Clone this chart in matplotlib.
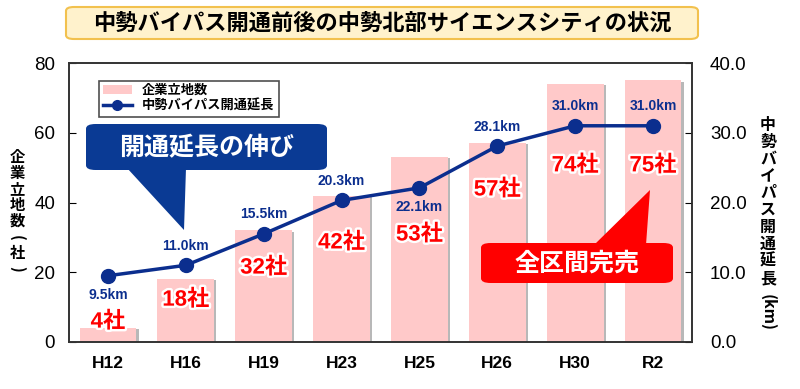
import matplotlib
matplotlib.use('Agg')
import matplotlib.pyplot as plt
import matplotlib.patheffects as pe
from matplotlib.patches import FancyBboxPatch, Polygon
from matplotlib.lines import Line2D
from matplotlib.patches import Patch

plt.rcParams['font.family'] = ['Liberation Sans', 'Noto Sans CJK JP', 'DejaVu Sans']
plt.rcParams['font.weight'] = 'bold'

years = ['H12', 'H16', 'H19', 'H23', 'H25', 'H26', 'H30', 'R2']
companies = [4, 18, 32, 42, 53, 57, 74, 75]
length_km = [9.5, 11.0, 15.5, 20.3, 22.1, 28.1, 31.0, 31.0]
count_label_y = [5.7, 12.0, 21.2, 28.4, 30.7, 43.6, 50.5, 50.5]
km_label_below = [True, False, False, False, True, False, False, False]

bar_color = '#FFC9C9'
line_color = '#0B2E8E'
label_red = '#FF0000'

fig = plt.figure(figsize=(8, 3.89), dpi=100, facecolor='white')
ax = fig.add_axes([69/800, 47/389, 623/800, 279/389])
ax2 = ax.twinx()
ax.set_zorder(ax2.get_zorder() - 1)
ax.patch.set_visible(True)
ax2.patch.set_visible(False)

x = list(range(len(years)))
shadow = [pe.SimplePatchShadow(offset=(1.6, -0.8), shadow_rgbFace='#8a8a8a', alpha=0.6), pe.Normal()]
bars = ax.bar(x, companies, width=0.73, color=bar_color, zorder=2)
for b in bars:
    b.set_path_effects(shadow)

ax.set_xlim(-0.5, len(years) - 0.5)
ax.set_ylim(0, 80)
ax.set_yticks([0, 20, 40, 60, 80])
ax.set_xticks(x)
ax.set_xticklabels(years, fontsize=12.5, fontweight='bold')
ax.tick_params(axis='x', length=0, pad=10)
ax.tick_params(axis='y', direction='in', length=5, labelsize=13.5, pad=10)
for lbl in ax.get_yticklabels():
    lbl.set_fontweight('normal')

ax2.set_ylim(0, 40)
ax2.set_yticks([0, 10, 20, 30, 40])
ax2.set_yticklabels([f'{v:.1f}' for v in [0, 10, 20, 30, 40]])
ax2.tick_params(axis='y', direction='in', length=5, labelsize=13.5, pad=13)
for lbl in ax2.get_yticklabels():
    lbl.set_fontweight('normal')

for a in (ax, ax2):
    for s in a.spines.values():
        s.set_color('#333333')
        s.set_linewidth(1.2)

ax2.plot(x, length_km, color=line_color, lw=2.5, marker='o', markersize=10, zorder=5)

stroke = [pe.withStroke(linewidth=3.5, foreground='white')]
for xi, c, ly in zip(x, companies, count_label_y):
    ax.text(xi, ly, f'{c}社', ha='center', va='center', fontsize=16, fontweight='bold',
            color=label_red, path_effects=stroke, zorder=6)

for xi, v, below in zip(x, length_km, km_label_below):
    off = -14 if below else 14
    ax2.annotate(f'{v:.1f}km', (xi, v), xytext=(0, off), textcoords='offset points',
                 ha='center', va='center', fontsize=10, fontweight='bold', color=line_color, zorder=7)

handles = [Patch(facecolor=bar_color, edgecolor='none'),
           Line2D([0], [0], color=line_color, lw=2.5, marker='o', markersize=7)]
leg = ax2.legend(handles, ['企業立地数', '中勢バイパス開通延長'], loc='upper left',
                 bbox_to_anchor=(0.037, 0.96), frameon=True, fancybox=False,
                 handlelength=2.2, borderpad=0.3, labelspacing=0.2, prop={'weight': 'bold', 'size': 9.5})
leg.get_frame().set_edgecolor('#222222')
leg.get_frame().set_linewidth(1.2)

# figure-pixel helpers (origin top-left)
def fx(px):
    return px / 800

def fy(py):
    return 1 - py / 389

# title box
fig.patches.append(FancyBboxPatch((fx(66), fy(39)), fx(698) - fx(66), fy(7) - fy(39),
                                  boxstyle='round,pad=0,rounding_size=0.01', transform=fig.transFigure,
                                  facecolor='#FFF2CC', edgecolor='#F2C14E', linewidth=1.5))
fig.text(fx(382), fy(23), '中勢バイパス開通前後の中勢北部サイエンスシティの状況', ha='center', va='center',
         fontsize=16, fontweight='bold', color='black', family=['Noto Sans CJK JP'])

# blue callout
blue = '#0A3A94'
fig.patches.append(Polygon([(fx(127), fy(168)), (fx(186), fy(168)), (fx(184), fy(230))],
                           closed=True, transform=fig.transFigure, facecolor=blue, edgecolor='none', zorder=8))
fig.patches.append(FancyBboxPatch((fx(86), fy(170)), fx(327) - fx(86), fy(124) - fy(170),
                                  boxstyle='round,pad=0,rounding_size=0.012', transform=fig.transFigure,
                                  facecolor=blue, edgecolor='none', zorder=8))
fig.text(fx(207), fy(148), '開通延長の伸び', ha='center', va='center', fontsize=18, fontweight='bold',
         color='white', family=['Noto Sans CJK JP'], zorder=9)

# red callout
fig.patches.append(Polygon([(fx(594), fy(245)), (fx(646), fy(245)), (fx(650), fy(190))],
                           closed=True, transform=fig.transFigure, facecolor=label_red, edgecolor='none', zorder=8))
fig.patches.append(FancyBboxPatch((fx(481), fy(283)), fx(673) - fx(481), fy(243) - fy(283),
                                  boxstyle='round,pad=0,rounding_size=0.012', transform=fig.transFigure,
                                  facecolor=label_red, edgecolor='none', zorder=8))
fig.text(fx(577), fy(264), '全区間完売', ha='center', va='center', fontsize=18, fontweight='bold',
         color='white', family=['Noto Sans CJK JP'], zorder=9)

# vertical axis titles (stacked characters)
left_chars = ['企', '業', '立', '地', '数']
for i, ch in enumerate(left_chars):
    fig.text(fx(17), fy(157 + i * 16), ch, ha='center', va='center', fontsize=11, fontweight='bold',
             family=['Noto Sans CJK JP'])
fig.text(fx(17), fy(238), '(', ha='center', va='center', fontsize=11, rotation=-90,
         family=['Noto Sans CJK JP'])
fig.text(fx(17), fy(253), '社', ha='center', va='center', fontsize=11, fontweight='bold',
         family=['Noto Sans CJK JP'])
fig.text(fx(17), fy(269), ')', ha='center', va='center', fontsize=11, rotation=-90,
         family=['Noto Sans CJK JP'])

right_chars = ['中', '勢', 'バ', 'イ', 'パ', 'ス', '開', '通', '延', '長']
for i, ch in enumerate(right_chars):
    fig.text(fx(768), fy(125 + i * 17), ch, ha='center', va='center', fontsize=11.5, fontweight='bold',
             family=['Noto Sans CJK JP'])
fig.text(fx(768), fy(313), '(km)', ha='center', va='center', fontsize=11.5, rotation=-90,
         family=['Noto Sans CJK JP'])

fig.savefig('out.png', dpi=100, facecolor='white')
